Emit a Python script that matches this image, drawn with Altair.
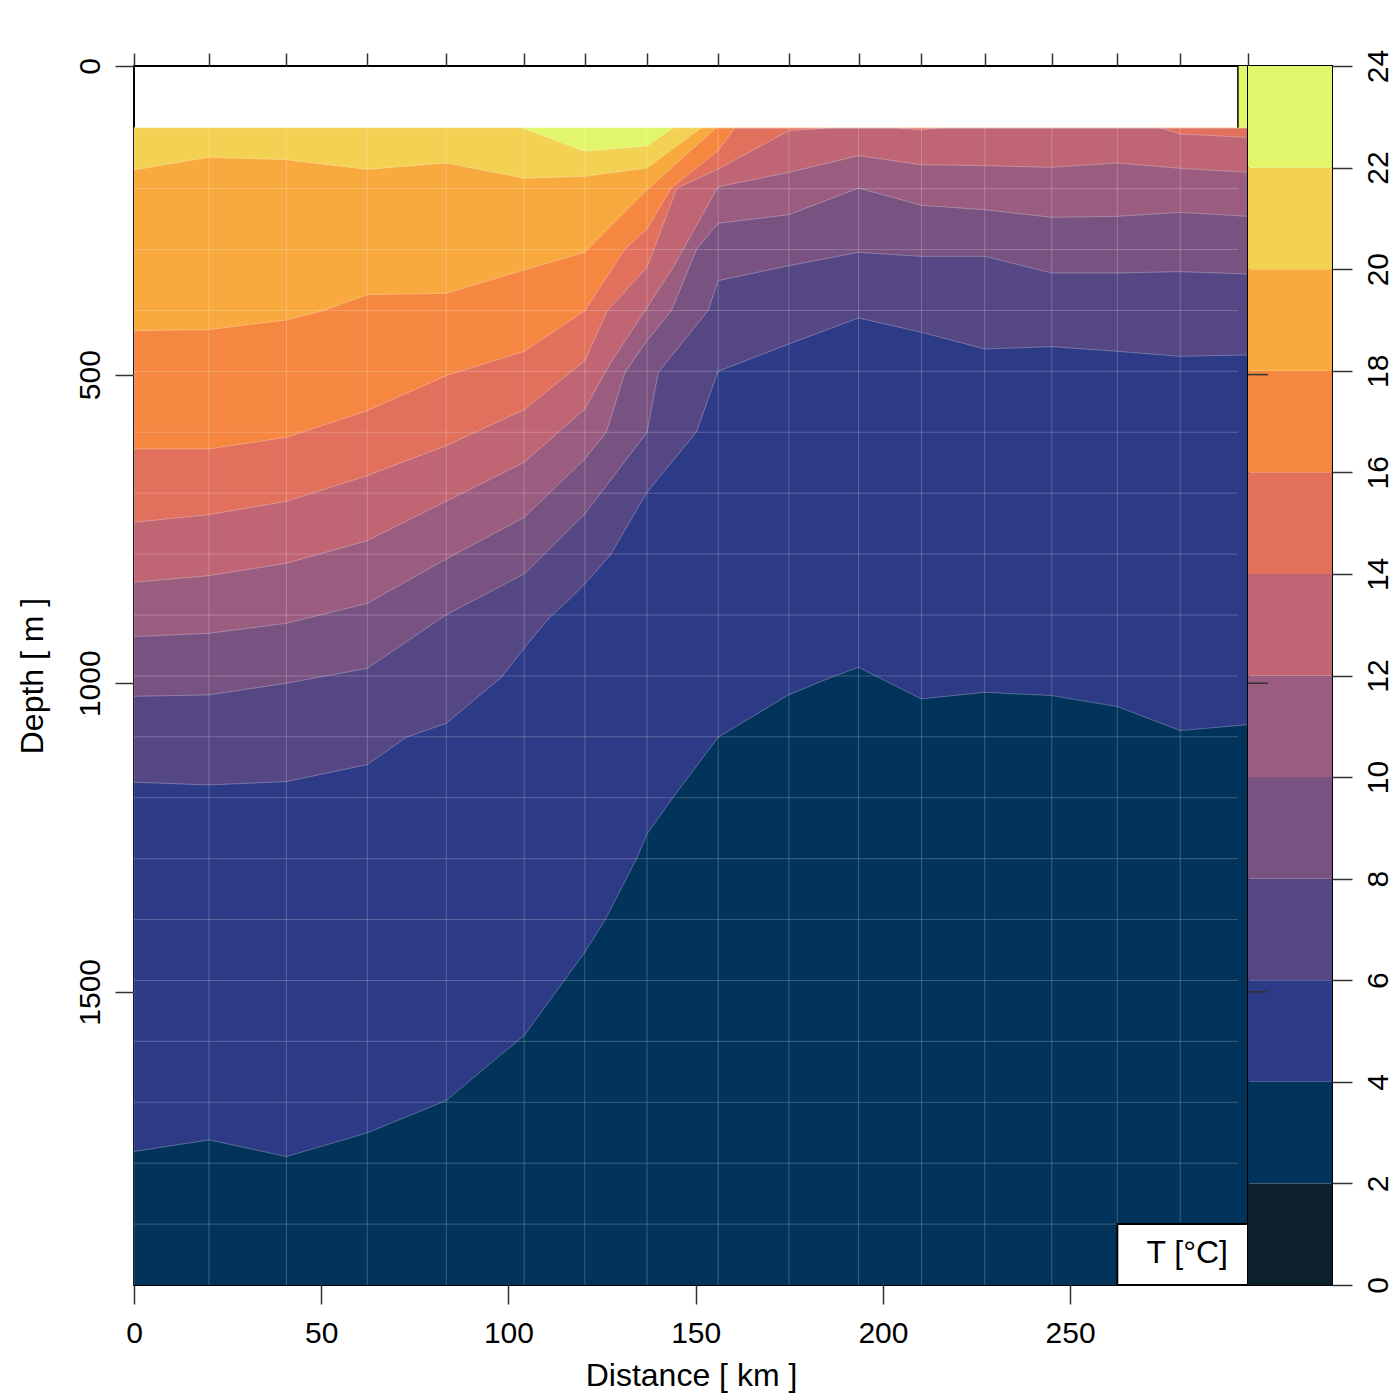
import altair as alt
import pandas as pd

# ---------------- data ----------------
# station positions along the section (km): top-axis ticks and vertical grid
stations_km = [0, 20.0, 40.7, 62.3, 83.4, 104.2, 120.4, 137.0, 156.0, 174.9,
               193.5, 210.3, 227.2, 245.1, 262.6, 279.4, 297.5]
# interpolation depth levels (m): horizontal grid
depth_levels = [100, 198.7, 297.4, 396.1, 494.7, 593.4, 692.1, 790.8, 889.5,
                988.2, 1086.8, 1185.5, 1284.2, 1382.9, 1481.6, 1580.3, 1678.9,
                1777.6, 1876.3]

# colour bands of the temperature key (deg C)
band_lo = [0, 2, 4, 6, 8, 10, 12, 14, 16, 18, 20, 22]
band_hi = [2, 4, 6, 8, 10, 12, 14, 16, 18, 20, 22, 24]
band_colors = ["#0d212c", "#02335a", "#2d3a86", "#554784", "#785381", "#9a5d7f",
               "#c06573", "#e1705d", "#f58741", "#f8aa3f", "#f3d152", "#e1f66b"]

# isotherm depths (km, m); 100 m = top of the data (isotherm absent above)
iso22 = [(0, 100), (103.5, 100), (120.4, 138.3), (137.0, 129.6), (144.0, 100),
         (297.5, 100)]
iso20 = [(0, 168.5), (20.0, 148.0), (40.7, 151.8), (62.3, 167.5), (83.4, 157.2),
         (104.2, 182.0), (120.4, 178.8), (137.0, 165.3), (151.5, 100), (297.5, 100)]
iso18 = [(0, 428.8), (20.0, 427.2), (40.7, 411.5), (50.5, 396.4), (62.3, 370.5),
         (83.4, 368.3), (104.2, 330.5), (120.4, 301.9), (137.0, 200.4),
         (155.5, 100), (297.5, 100)]
iso16 = [(0, 620.5), (20.0, 620.5), (40.7, 601.6), (62.3, 558.4), (83.4, 501.7),
         (104.2, 462.3), (120.4, 396.4), (131.1, 296.4), (137.0, 264.1),
         (143.5, 197.6), (156.0, 137.2), (160.5, 100), (297.5, 100)]
iso14 = [(0, 739.3), (20.0, 726.9), (40.7, 705.3), (62.3, 663.7), (83.4, 615.1),
         (104.2, 556.8), (120.4, 477.4), (126.4, 396.4), (137.0, 326.2),
         (145.0, 197.6), (156.0, 166.9), (174.9, 104.8), (186.6, 100),
         (203.2, 100), (210.3, 103.7), (215.2, 100), (274.0, 100),
         (279.4, 110.2), (297.5, 115.6)]
iso12 = [(0, 836.5), (20.0, 825.7), (40.7, 805.7), (62.3, 769.0), (83.4, 705.3),
         (104.2, 642.2), (120.4, 555.6), (127.1, 482.8), (137.0, 391.1),
         (144.0, 326.2), (156.0, 195.5), (174.9, 172.3), (193.5, 145.3),
         (210.3, 159.9), (227.2, 161.5), (245.1, 164.2), (262.6, 157.2),
         (279.4, 165.8), (297.5, 172.3)]
iso10 = [(0, 924.5), (20.0, 919.1), (40.7, 902.9), (62.3, 870.5), (83.4, 798.7),
         (104.2, 731.2), (120.4, 636.7), (126.1, 593.6), (131.1, 496.4),
         (137.0, 445.1), (143.5, 396.4), (150.3, 296.0), (156.0, 254.9),
         (174.9, 240.9), (193.5, 197.7), (210.3, 225.8), (227.2, 232.8),
         (245.1, 245.2), (262.6, 243.6), (279.4, 237.1), (297.5, 243.6)]
iso8 = [(0, 1021.2), (20.0, 1019.0), (40.7, 1000.1), (62.3, 975.8), (83.4, 888.9),
        (104.2, 823.0), (120.4, 725.8), (137.0, 593.6), (140.0, 496.4),
        (153.3, 396.4), (156.0, 347.8), (174.9, 323.5), (193.5, 301.9),
        (210.3, 308.4), (227.2, 308.4), (245.1, 335.4), (262.6, 335.4),
        (279.4, 333.2), (297.5, 337.0)]
iso6 = [(0, 1160.5), (20.0, 1164.8), (40.7, 1159.4), (62.3, 1131.9), (72.7, 1087.6),
        (83.4, 1064.9), (98.1, 990.4), (104.4, 941.8), (111.0, 893.2),
        (115.9, 866.2), (120.4, 839.2), (127.1, 793.3), (137.0, 690.7),
        (150.2, 593.0), (156.0, 494.7), (174.9, 450.4), (193.5, 408.3),
        (210.3, 431.5), (227.2, 458.5), (245.1, 454.7), (262.6, 462.3),
        (279.4, 470.4), (297.5, 468.2)]
iso4 = [(0, 1758.8), (20.0, 1739.9), (40.7, 1766.9), (62.3, 1728.5), (83.4, 1676.2),
        (97.7, 1603.3), (104.2, 1570.9), (120.4, 1435.9), (125.7, 1384.6),
        (134.2, 1284.7), (137.0, 1244.2), (144.0, 1184.8), (156.0, 1087.6),
        (174.9, 1018.5), (186.7, 989.3), (193.5, 974.2), (210.3, 1025.5),
        (227.2, 1014.7), (245.1, 1020.1), (262.6, 1037.9), (279.4, 1076.8),
        (297.5, 1067.1)]

isotherms = [(22, iso22), (20, iso20), (18, iso18), (16, iso16), (14, iso14),
             (12, iso12), (10, iso10), (8, iso8), (6, iso6), (4, iso4)]

X_MAX = 297.5        # last station
Z_MAX = 1975         # deepest interpolation level
Z_TOP = 100          # shallowest interpolation level
key_label = "T [°C]"

FONT = "Liberation Sans"
W, H = 1114, 1219
CB_W = 84

xs = alt.Scale(domain=[0, X_MAX], nice=False, zero=False)
ys = alt.Scale(domain=[0, Z_MAX], reverse=True, nice=False, zero=False)


def band_color(level):
    return band_colors[band_hi.index(level)]


layers = []

# base: warmest band below the data top (carries bottom and left axes)
base_df = pd.DataFrame({"x0": [0], "x1": [X_MAX], "d0": [Z_TOP], "d1": [Z_MAX]})
layers.append(
    alt.Chart(base_df).mark_rect(color=band_colors[-1]).encode(
        x=alt.X("x0:Q", scale=xs, axis=alt.Axis(
            orient="bottom", values=[0, 50, 100, 150, 200, 250], tickSize=19,
            labelPadding=14, title="Distance [ km ]", titlePadding=12,
            labelFlush=False, format="d")),
        x2="x1:Q",
        y=alt.Y("d0:Q", scale=ys, axis=alt.Axis(
            orient="left", values=[0, 500, 1000, 1500], tickSize=19,
            labelAngle=270, labelAlign="center", labelBaseline="alphabetic",
            labelPadding=16, title="Depth [ m ]", titlePadding=26,
            labelFlush=False, format="d")),
        y2="d1:Q",
    )
)

# filled bands: area below each isotherm, warm to cold
for level, pts in isotherms:
    df = pd.DataFrame(pts, columns=["km", "depth"])
    layers.append(
        alt.Chart(df).mark_area(color=band_color(level), orient="vertical",
                                opacity=1, interpolate="linear").encode(
            x=alt.X("km:Q", scale=xs, axis=None),
            y=alt.Y("depth:Q", scale=ys, axis=None),
            y2=alt.datum(Z_MAX),
        )
    )

# light seams along the isotherms
for level, pts in isotherms:
    df = pd.DataFrame(pts, columns=["km", "depth"])
    if not (df["depth"] > Z_TOP + 0.5).any():
        continue
    layers.append(
        alt.Chart(df).mark_line(
            color="white", strokeWidth=0.8, opacity=0.35).encode(
            x=alt.X("km:Q", scale=xs, axis=None),
            y=alt.Y("depth:Q", scale=ys, axis=None),
        )
    )

# horizontal grid at the interpolation levels
hgrid = pd.DataFrame({"depth": depth_levels, "x0": 0, "x1": 294.8})
layers.append(
    alt.Chart(hgrid).mark_rule(color="white", strokeWidth=1, opacity=0.22).encode(
        x=alt.X("x0:Q", scale=xs, axis=None), x2="x1:Q",
        y=alt.Y("depth:Q", scale=ys, axis=None),
    )
)

# vertical grid at the stations, with the top axis ticks
vgrid = pd.DataFrame({"km": stations_km, "d0": Z_TOP, "d1": Z_MAX})
layers.append(
    alt.Chart(vgrid).mark_rule(color="white", strokeWidth=1, opacity=0.22).encode(
        x=alt.X("km:Q", scale=xs, axis=alt.Axis(
            orient="top", values=stations_km, tickSize=13, labels=False,
            title=None)),
        y=alt.Y("d0:Q", scale=ys, axis=None), y2="d1:Q",
    )
)

# small key strip at the upper right corner
strip = pd.DataFrame({"x0": [294.8], "x1": [X_MAX], "d0": [0], "d1": [Z_TOP]})
layers.append(
    alt.Chart(strip).mark_rect(color=band_colors[-1]).encode(
        x=alt.X("x0:Q", scale=xs, axis=None), x2="x1:Q",
        y=alt.Y("d0:Q", scale=ys, axis=None), y2="d1:Q",
    )
)
layers.append(
    alt.Chart(strip).mark_rule(color="black", strokeWidth=1.5).encode(
        x=alt.X("x0:Q", scale=xs, axis=None),
        y=alt.Y("d0:Q", scale=ys, axis=None), y2="d1:Q",
    )
)

# label box "T [°C]"
box = pd.DataFrame({"x0": [262.6], "x1": [X_MAX], "d0": [1876.3], "d1": [Z_MAX],
                    "label": [key_label]})
layers.append(
    alt.Chart(box).mark_rect(fill="white", stroke="black", strokeWidth=2).encode(
        x=alt.X("x0:Q", scale=xs, axis=None), x2="x1:Q",
        y=alt.Y("d0:Q", scale=ys, axis=None), y2="d1:Q",
    )
)
layers.append(
    alt.Chart(box).mark_text(align="right", baseline="middle", fontSize=32,
                             font=FONT, color="black").encode(
        x=alt.value(1094), y=alt.value(1187), text="label:N",
    )
)

main = alt.layer(*layers).resolve_axis(x="independent", y="independent").properties(
    width=W, height=H)

# ---------------- colour key ----------------
cb_df = pd.DataFrame({"lo": band_lo, "hi": band_hi, "color": band_colors})
cbar = alt.Chart(cb_df).mark_rect().encode(
    x=alt.value(0), x2=alt.value(CB_W),
    y=alt.Y("lo:Q", scale=alt.Scale(domain=[0, 24], nice=False, zero=False),
            axis=alt.Axis(orient="right", values=band_lo + [24], tickSize=20,
                          labelAngle=270, labelAlign="center",
                          labelBaseline="top", labelPadding=11, title=None,
                          labelFlush=False, format="d")),
    y2="hi:Q",
    color=alt.Color("color:N", scale=None),
)
right_ticks = alt.Chart(pd.DataFrame({"depth": [500, 1000, 1500]})).mark_rule(
    color="#333333", strokeWidth=1.5).encode(
    y=alt.Y("depth:Q", scale=alt.Scale(domain=[0, Z_MAX], reverse=True,
                                       nice=False, zero=False), axis=None),
    x=alt.value(0), x2=alt.value(20),
)
key = alt.layer(cbar, right_ticks).resolve_scale(y="independent").resolve_axis(
    y="independent").properties(width=CB_W, height=H)

chart = alt.hconcat(main, key, spacing=0, bounds="flush").configure_view(
    stroke="black", strokeWidth=2
).configure_axis(
    domain=False, grid=False, tickColor="#333333", tickWidth=1.5,
    labelFont=FONT, titleFont=FONT, labelFontSize=30, titleFontSize=32,
    labelColor="black", titleColor="black", titleFontWeight="normal",
).properties(
    padding={"left": 15, "top": 48, "right": 2, "bottom": 2},
    background="white",
)

chart.save("out.html", embed_options={"renderer": "svg", "actions": False})
